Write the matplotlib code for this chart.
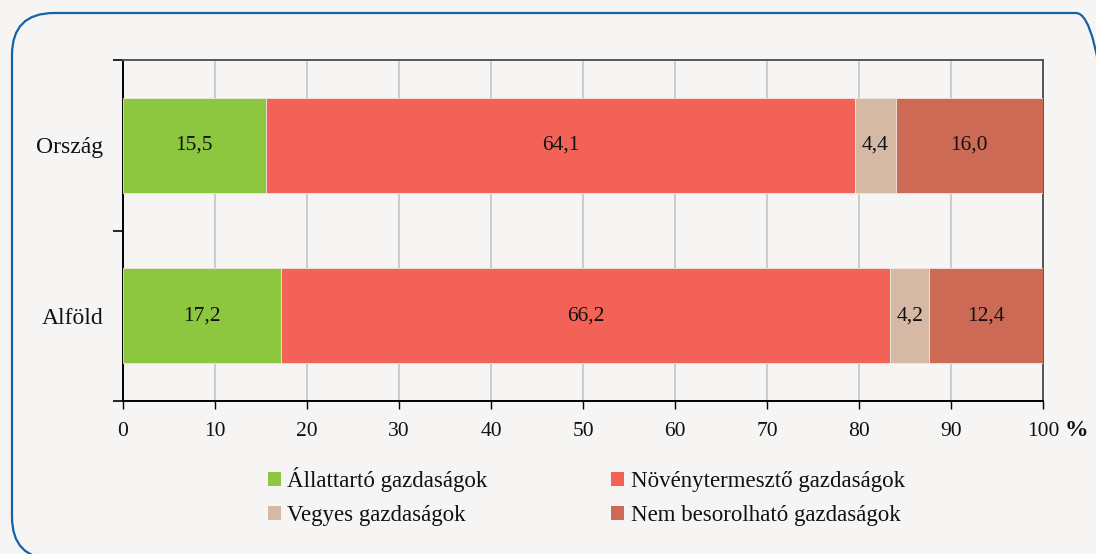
import matplotlib
matplotlib.use("Agg")
import matplotlib.pyplot as plt
from matplotlib.patches import FancyBboxPatch, Patch

plt.rcParams['font.family'] = ['Liberation Serif', 'DejaVu Serif']

categories = ["Alföld", "Ország"]
series_names = ["Állattartó gazdaságok", "Növénytermesztő gazdaságok",
                "Vegyes gazdaságok", "Nem besorolható gazdaságok"]
allattarto = [17.2, 15.5]
novenytermeszto = [66.2, 64.1]
vegyes = [4.2, 4.4]
nem_besorolhato = [12.4, 16.0]
series_values = [allattarto, novenytermeszto, vegyes, nem_besorolhato]
colors = ["#8DC63F", "#F26257", "#D6B9A5", "#CC6A55"]
x_ticks = [0, 10, 20, 30, 40, 50, 60, 70, 80, 90, 100]

bg = "#F6F5F3"
txt = "#111111"
fig = plt.figure(figsize=(10.96, 5.54), dpi=100, facecolor=bg)
ax = fig.add_axes([123/1096, 1-401/554, 920/1096, 341/554])
ax.set_facecolor(bg)

# rounded border (inches), clipped to the figure so it runs off right/bottom edges
border = FancyBboxPatch((0.12, -0.05), 11.06, 5.46,
                        boxstyle="round,pad=0,rounding_size=0.42",
                        transform=fig.dpi_scale_trans, facecolor="none",
                        edgecolor="#1562A8", linewidth=1.6, zorder=0)
fig.add_artist(border)
border.set_clip_box(fig.bbox)
border.set_clip_on(True)

ypos = list(range(len(categories)))
left = [0.0] * len(categories)
handles = []
for name, vals, col in zip(series_names, series_values, colors):
    ax.barh(ypos, vals, left=left, height=0.555, color=col,
            edgecolor="#EDE6E0", linewidth=0.6, zorder=3, label=name)
    for y, v, l in zip(ypos, vals, left):
        ax.text(l + v / 2, y, f"{v:.1f}".replace(".", ","), ha="center",
                va="center", fontsize=15.5, color=txt, zorder=4)
    left = [a + b for a, b in zip(left, vals)]
    handles.append(Patch(facecolor=col, edgecolor="none", label=name))

ax.set_xlim(0, 100)
ax.set_ylim(-0.5, 1.5)
ax.set_xticks(x_ticks)
ax.set_xticklabels([str(t) for t in x_ticks])
ax.set_yticks(ypos)
ax.set_yticklabels(categories)
ax.set_yticks([-0.5, 0.5, 1.5], minor=True)
ax.tick_params(axis="y", which="major", length=0, pad=14, labelsize=17, labelcolor=txt)
ax.tick_params(axis="y", which="minor", length=7, width=1.2, color="black")
ax.tick_params(axis="x", which="major", length=6, width=1.0, pad=9, labelsize=15.5,
               labelcolor=txt, color="black")
ax.grid(axis="x", color="#C8C8C8", linewidth=1.3, zorder=0)
ax.set_axisbelow(True)

for s in ["left", "bottom"]:
    ax.spines[s].set_color("black")
    ax.spines[s].set_linewidth(1.4)
for s in ["top", "right"]:
    ax.spines[s].set_color("#555555")
    ax.spines[s].set_linewidth(1.4)

ax.annotate("%", xy=(1, 0), xycoords="axes fraction", xytext=(33 * 0.72, -29 * 0.72),
            textcoords="offset points", ha="center", va="center",
            fontsize=17, fontweight="bold", color=txt)

order = [0, 2, 1, 3]
leg = fig.legend([handles[i] for i in order], [series_names[i] for i in order],
                 ncol=2, frameon=False, fontsize=16.5, loc="center left",
                 bbox_to_anchor=(268/1096, 1-496.5/554),
                 handlelength=0.57, handleheight=0.57, handletextpad=0.28,
                 columnspacing=5.38, labelspacing=0.585, borderpad=0, borderaxespad=0)
for t in leg.get_texts():
    t.set_color(txt)

fig.savefig("out.png", dpi=100, facecolor=bg)
